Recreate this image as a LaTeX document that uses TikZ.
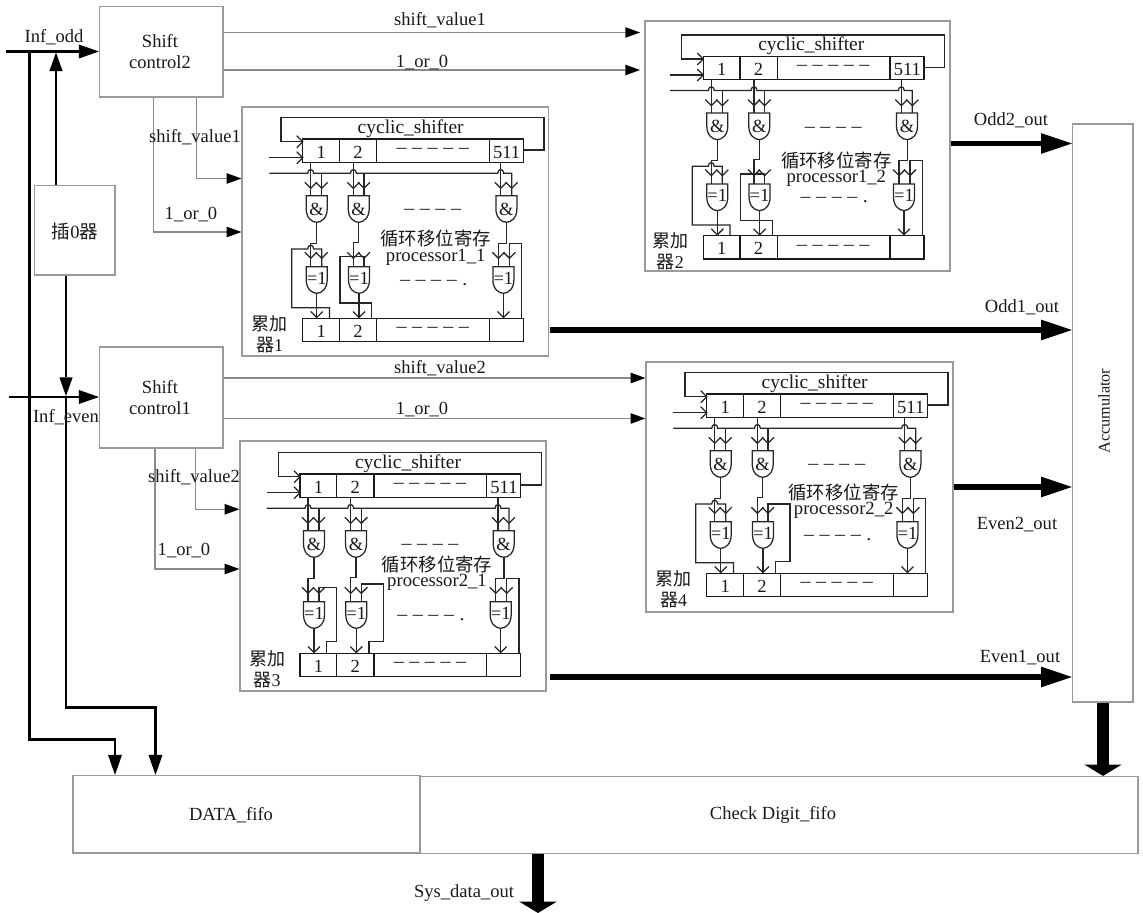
\documentclass[tikz,border=0pt]{standalone}
\usepackage{fontspec}
\setmainfont{Liberation Serif}
\newfontfamily\cjk{Noto Sans CJK SC}
\usetikzlibrary{arrows.meta,fit,calc}
\definecolor{boxgray}{HTML}{9A9A9A}
\definecolor{wiregray}{HTML}{8A8A8A}
\newcommand\dd{–\hspace{0.28em}}
\tikzset{
  txt/.style={font=\fontsize{13.9pt}{15.75pt}\selectfont,inner sep=0pt,text=black!90,yshift=-0.8pt},
  dashtxt/.style={font=\fontsize{15pt}{16pt}\selectfont,inner sep=0pt,text=black!85},
  gbox/.style={draw=boxgray,line width=0.9pt,inner sep=0pt},
  wire/.style={draw=black!85,line width=0.95pt,line join=miter},
  cell/.style={draw=black!90,line width=1pt},
  gwire/.style={draw=wiregray,line width=0.8pt,-{Triangle[length=11pt,width=8pt,line width=0pt,color=black]}},
  midwire/.style={draw=black,line width=1.3pt,-{Triangle[length=14pt,width=10pt,line width=0pt]}},
  busplain/.style={draw=black,line width=1.6pt},
  busarrow/.style={draw=black,line width=1.6pt,-{Triangle[length=15pt,width=10.5pt,line width=0pt]}},
  thickarrow/.style={draw=black,line width=4.2pt,-{Triangle[length=23pt,width=15.5pt,line width=0pt]}},
  bigarrow/.style={draw=black,line width=9.5pt,-{Triangle[length=8.5pt,width=28pt,line width=0pt]}},
}
% open arrow wings drawn on a running wire
\newcommand\vv[2]{\draw[wire] (#1-6,#2-6)--(#1,#2)--(#1+6,#2-6);}
\newcommand\hh[2]{\draw[wire] (#1-6,#2-6)--(#1,#2)--(#1-6,#2+6);}
\newcommand\gatebody[2]{\draw[wire] (#1-10.5,#2)--(#1+10.5,#2)--(#1+10.5,#2+13)
   .. controls (#1+10.5,#2+22) and (#1+5,#2+26.6) .. (#1,#2+26.6)
   .. controls (#1-5,#2+26.6) and (#1-10.5,#2+22) .. (#1-10.5,#2+13) -- cycle;}
% feedback variants
\newcommand\fbOneA{\draw[wire] (26.7,179.3)--(26.7,168.7)--(-11,168.7)--(-11,110)--(5,110)
   .. controls (5,105) and (11,105) .. (11,110) --(19,110)--(19,127.7);}
\newcommand\fbOneB{\draw[wire] (26.7,179.3)--(26.7,167.7)--(36.7,167.7)--(36.7,113.3)--(19,113.3)--(19,127.7);}
\newcommand\fbTwoA{\draw[wire] (69,179.3)--(69,164)--(37.3,164)--(37.3,117.7)--(61.3,117.7)--(61.3,127.7);}
\newcommand\fbTwoB{\draw[wire] (69,179.3)--(69,167.7)--(83.3,167.7)--(83.3,110)--(61.3,110)--(61.3,127.7);}
% #1 name, #2 register corner, #3 #4 panel corners, #5 #6 feedbacks, #7 acc number, #8 processor label, #9 text position for CJK
\newcommand\procblock[9]{%
  \node[gbox,fit={(#3)(#4)}] (#1) {};
  \begin{scope}[shift={(#2)}]
    \foreach \yy/\nn in {0/top,179.3/bot}{
      \draw[cell] (0,\yy) rectangle (220.7,\yy+23.3);
      \draw[cell] (36.7,\yy)--(36.7,\yy+23.3) (74,\yy)--(74,\yy+23.3) (186.7,\yy)--(186.7,\yy+23.3);
      \node[txt] (#1-\nn-a) at (18.5,\yy+12) {1};
      \node[txt] (#1-\nn-b) at (55.3,\yy+12) {2};
      \node[dashtxt] (#1-\nn-d) at (130,\yy+12) {\dd\dd\dd\dd–};
    }
    \node[txt] (#1-top-e) at (204,12) {511};
    \node[txt,font=\fontsize{14.6pt}{16pt}\selectfont] (#1-cs) at (108,-11.5) {cyclic\_shifter};
    \draw[wire] (220.7,11)--(241.3,11)--(241.3,-21.3)--(-21.7,-21.3)--(-21.7,2.7)--(0,2.7);
    \hh{0}{2.7}
    \draw[wire] (-33.3,18.7)--(0,18.7);
    \hh{0}{18.7}
    \draw[wire] (-33.3,34.3)--(5,34.3) .. controls (5,29.3) and (11,29.3) .. (11,34.3)
      --(47.7,34.3) .. controls (47.7,29.3) and (53.7,29.3) .. (53.7,34.3)
      --(195,34.3) .. controls (195,29.3) and (201,29.3) .. (201,34.3)
      --(209,34.3)--(209,56.7);
    \draw[wire] (19,34.3)--(19,56.7) (61.3,34.3)--(61.3,56.7);
    \draw[wire] (8,23.3)--(8,56.7) (50.7,23.3)--(50.7,56.7) (198,23.3)--(198,56.7);
    \vv{8}{49.3}\vv{19}{49.3}\vv{50.7}{49.3}\vv{61.3}{49.3}\vv{198}{49.3}\vv{209}{49.3}
    \gatebody{14}{56.7}\gatebody{56}{56.7}\gatebody{203.7}{56.7}
    \node[txt] (#1-and1) at (14,69) {\&};
    \node[txt] (#1-and2) at (56,69) {\&};
    \node[txt] (#1-and3) at (203.7,69) {\&};
    \draw[wire] (14,83.3)--(14,104.3)--(8,104.3)--(8,127.7);
    \draw[wire] (56,83.3)--(56,103.3)--(50.7,103.3)--(50.7,127.7);
    \draw[wire] (204,83.3)--(204,104.3)--(195.7,104.3)--(195.7,127.7);
    #5
    #6
    \draw[wire] (206.7,127.7)--(206.7,104.3)--(219,104.3)--(219,179.3);
    \vv{8}{119.3}\vv{19}{119.3}\vv{50.7}{119.3}\vv{61.3}{119.3}\vv{195.7}{119.3}\vv{206.7}{119.3}
    \gatebody{14}{127.7}\gatebody{56.3}{127.7}\gatebody{200.7}{127.7}
    \node[txt] (#1-x1) at (14,138) {=1};
    \node[txt] (#1-x2) at (56.3,138) {=1};
    \node[txt] (#1-x3) at (200.7,138) {=1};
    \draw[wire] (14,154.3)--(14,179.3) (56.3,154.3)--(56.3,179.3) (200.7,154.3)--(200.7,179.3);
    \vv{14}{178.5}\vv{56.3}{178.5}\vv{200.7}{178.5}
    \node[dashtxt] (#1-m1) at (130,73.3) {\dd\dd\dd–};
    \node[dashtxt] (#1-m2) at (131,143.7) {\dd\dd\dd\dd.};
    \node[txt,font=\fontsize{13.8pt}{16pt}\selectfont\cjk] (#1-cn) at (#9) {循环移位寄存};
    \node[txt,font=\fontsize{14pt}{16pt}\selectfont,anchor=center] (#1-pn) at ($(#9)+(0,18.5)$) {#8};
    \node[txt,align=center,font=\fontsize{13.5pt}{16pt}\selectfont] (#1-acc) at (-33,194) {{\cjk 累加}\\{\cjk 器}#7};
  \end{scope}
}
\begin{document}
\begin{tikzpicture}[x=0.75pt,y=-0.75pt]
\useasboundingbox (0,0) rectangle (1143,913);
% main boxes
\node[gbox,fit={(99.5,6.5)(223,97)}] (sc2) {};
\node[gbox,fit={(99.5,347)(223,448)}] (sc1) {};
\node[gbox,fit={(34.5,185.5)(115,275)}] (ins) {};
\node[gbox,fit={(1072.5,124)(1133,702)}] (acc) {};
\node[gbox,fit={(73,775.5)(420,853)}] (data) {};
\node[gbox,fit={(420,776.5)(1138,853.5)}] (chk) {};
\node[txt,align=center,font=\fontsize{13.9pt}{15.75pt}\selectfont] (sc2t) at (160,51) {Shift\\control2};
\node[txt,align=center,font=\fontsize{13.9pt}{15.75pt}\selectfont] (sc1t) at (160,396) {Shift\\control1};
\node[txt] (inst) at (75,230) {{\cjk 插}0{\cjk 器}};
\node[txt,rotate=90,font=\fontsize{12.2pt}{14pt}\selectfont] (acct) at (1104,410) {Accumulator};
\node[txt] (datat) at (231,814) {DATA\_fifo};
\node[txt] (chkt) at (773,814) {Check Digit\_fifo};
% processor blocks
\procblock{p1}{302.7,139}{242,107}{548.5,356}{\fbOneA}{\fbTwoA}{1}{processor1\_1}{133,98.7}
\procblock{p2}{703.3,56.3}{645,21}{950,271}{\fbOneA}{\fbTwoA}{2}{processor1\_2}{133,102.7}
\procblock{p3}{300,474}{240,441}{546,691}{\fbOneB}{\fbTwoB}{3}{processor2\_1}{137,89}
\procblock{p4}{706.7,394}{646,362}{953,612}{\fbOneA}{\fbTwoB}{4}{processor2\_2}{137,97}
% gray control wires
\draw[gwire] (sc2.east|-0,32.5)--(640,32.5);
\draw[gwire] (sc2.east|-0,70)--(640,70);
\draw[gwire] (sc1.east|-0,378)--(p4.west|-0,378);
\draw[gwire] (sc1.east|-0,418.5)--(p4.west|-0,418.5);
\draw[gwire] (sc2.south-|196.5,0)--(196.5,178.5)--(p1.west|-0,178.5);
\draw[gwire] (sc2.south-|153.5,0)--(153.5,232)--(p1.west|-0,232);
\draw[gwire] (sc1.south-|195.5,0)--(195.5,509.3)--(p3.west|-0,509.3);
\draw[gwire] (sc1.south-|155,0)--(155,569)--(p3.west|-0,569);
% input buses
\coordinate (odd) at (6,51.5);
\coordinate (even) at (9,397);
\draw[midwire] (ins.north-|56,0)--(56,52.5);
\draw[midwire] (ins.south-|66,0)--(66,396);
\draw[busarrow] (odd)--(sc2.west|-odd);
\draw[busarrow] (even)--(sc1.west|-even);
\draw[busarrow] (29.5,51.5)--(29.5,739.5)--(115,739.5)--(data.north-|115,0);
\draw[busarrow] (66,397)--(66,707.5)--(155.5,707.5)--(data.north-|155.5,0);
% thick outputs
\draw[thickarrow] (p2.east|-0,143.5)--(acc.west|-0,143.5);
\draw[thickarrow] (550,330)--(acc.west|-0,330);
\draw[thickarrow] (p4.east|-0,487)--(acc.west|-0,487);
\draw[thickarrow] (550,677)--(acc.west|-0,677);
\draw[bigarrow] (acc.south-|1103,0)--(chk.north-|1103,0);
\draw[bigarrow] (chk.south-|538,0)--(538,913);
% labels
\node[txt] (l1) at (54,36) {Inf\_odd};
\node[txt] (l2) at (66,416) {Inf\_even};
\node[txt] (l3) at (195,136) {shift\_value1};
\node[txt] (l4) at (191,213) {1\_or\_0};
\node[txt] (l5) at (194,476) {shift\_value2};
\node[txt] (l6) at (184,549) {1\_or\_0};
\node[txt] (l7) at (440,19) {shift\_value1};
\node[txt] (l8) at (422,61) {1\_or\_0};
\node[txt] (l9) at (440,367) {shift\_value2};
\node[txt] (l10) at (422,408) {1\_or\_0};
\node[txt] (l11) at (1011,119) {Odd2\_out};
\node[txt] (l12) at (1022,306) {Odd1\_out};
\node[txt] (l13) at (1017,523) {Even2\_out};
\node[txt] (l14) at (1020,657) {Even1\_out};
\node[txt] (l15) at (464,892) {Sys\_data\_out};
\end{tikzpicture}
\end{document}
